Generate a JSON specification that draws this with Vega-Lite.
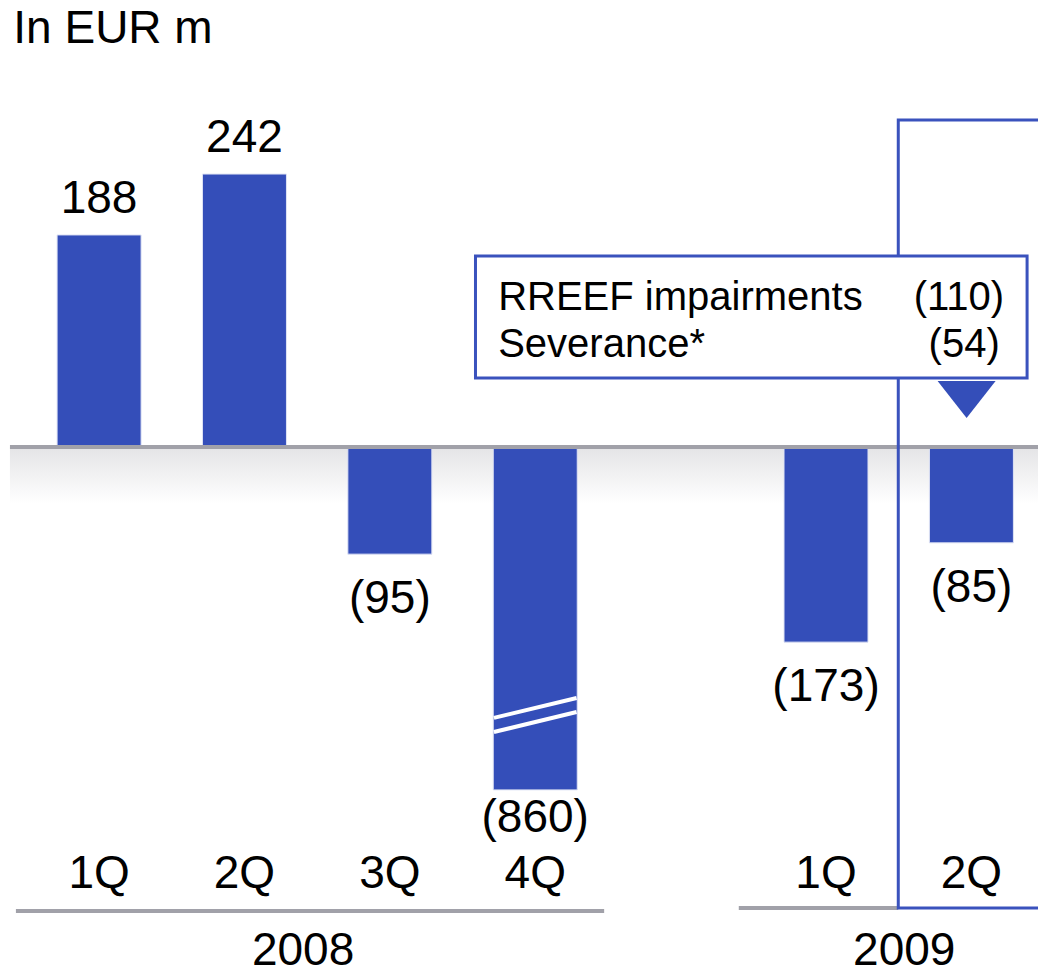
{
  "$schema": "https://vega.github.io/schema/vega-lite/v6.json",
  "width": 1038,
  "height": 976,
  "autosize": {"type": "none"},
  "padding": 0,
  "background": "#ffffff",
  "config": {"view": {"stroke": null}, "text": {"font": "Liberation Sans", "color": "#000000"}},
  "data": {
    "values": [
      {"year": "2008", "quarter": "1Q", "slot": 0, "value": 188, "drawn": 188, "label": "188"},
      {"year": "2008", "quarter": "2Q", "slot": 1, "value": 242, "drawn": 242, "label": "242"},
      {"year": "2008", "quarter": "3Q", "slot": 2, "value": -95, "drawn": -95, "label": "(95)"},
      {"year": "2008", "quarter": "4Q", "slot": 3, "value": -860, "drawn": -304, "label": "(860)"},
      {"year": "2009", "quarter": "1Q", "slot": 5, "value": -173, "drawn": -173, "label": "(173)"},
      {"year": "2009", "quarter": "2Q", "slot": 6, "value": -85, "drawn": -85, "label": "(85)"}
    ]
  },
  "layer": [
    {
      "data": {"values": [{}]},
      "mark": {"type": "rect", "fill": {"gradient": "linear", "x1": 0, "y1": 0, "x2": 0, "y2": 1, "stops": [{"offset": 0, "color": "#e4e4e6"}, {"offset": 1, "color": "#ffffff"}]}},
      "encoding": {
        "x": {"datum": -0.613, "type": "quantitative", "scale": {"domain": [-0.6471, 6.4237], "nice": false, "zero": false}, "axis": null},
        "x2": {"datum": 6.5},
        "y": {"datum": 0, "type": "quantitative", "scale": {"domain": [-469, 396.3], "nice": false, "zero": false}, "axis": null},
        "y2": {"datum": -50}
      }
    },
    {
      "mark": {"type": "bar", "width": 84, "color": "#344eb9", "stroke": "#dfe3f4", "strokeWidth": 1},
      "encoding": {
        "x": {"field": "slot", "type": "quantitative", "scale": {"domain": [-0.6471, 6.4237], "nice": false, "zero": false}, "axis": null},
        "y": {"field": "drawn", "type": "quantitative", "scale": {"domain": [-469, 396.3], "nice": false, "zero": false}, "axis": null},
        "y2": {"datum": 0}
      }
    },
    {
      "data": {"values": [{}]},
      "mark": {"type": "rule", "color": "#a1a1a9", "strokeWidth": 4},
      "encoding": {
        "x": {"datum": -0.613, "type": "quantitative", "scale": {"domain": [-0.6471, 6.4237], "nice": false, "zero": false}, "axis": null},
        "x2": {"datum": 6.5},
        "y": {"datum": 0, "type": "quantitative", "scale": {"domain": [-469, 396.3], "nice": false, "zero": false}, "axis": null}
      }
    },
    {
      "data": {"values": [{}]},
      "mark": {"type": "rule", "color": "#ffffff", "strokeWidth": 4},
      "encoding": {
        "x": {"datum": 2.7156, "type": "quantitative", "scale": {"domain": [-0.6471, 6.4237], "nice": false, "zero": false}, "axis": null},
        "x2": {"datum": 3.2844},
        "y": {"datum": -240.2, "type": "quantitative", "scale": {"domain": [-469, 396.3], "nice": false, "zero": false}, "axis": null},
        "y2": {"datum": -222.5}
      }
    },
    {
      "data": {"values": [{}]},
      "mark": {"type": "rule", "color": "#ffffff", "strokeWidth": 4},
      "encoding": {
        "x": {"datum": 2.7156, "type": "quantitative", "scale": {"domain": [-0.6471, 6.4237], "nice": false, "zero": false}, "axis": null},
        "x2": {"datum": 3.2844},
        "y": {"datum": -252.7, "type": "quantitative", "scale": {"domain": [-469, 396.3], "nice": false, "zero": false}, "axis": null},
        "y2": {"datum": -234.9}
      }
    },
    {
      "data": {"values": [{}]},
      "mark": {"type": "rule", "color": "#a1a1a9", "strokeWidth": 4},
      "encoding": {
        "x": {"datum": -0.572, "type": "quantitative", "scale": {"domain": [-0.6471, 6.4237], "nice": false, "zero": false}, "axis": null},
        "x2": {"datum": 3.474},
        "y": {"datum": -411.3, "type": "quantitative", "scale": {"domain": [-469, 396.3], "nice": false, "zero": false}, "axis": null}
      }
    },
    {
      "data": {"values": [{}]},
      "mark": {"type": "rule", "color": "#a1a1a9", "strokeWidth": 4},
      "encoding": {
        "x": {"datum": 4.4, "type": "quantitative", "scale": {"domain": [-0.6471, 6.4237], "nice": false, "zero": false}, "axis": null},
        "x2": {"datum": 5.497},
        "y": {"datum": -408.7, "type": "quantitative", "scale": {"domain": [-469, 396.3], "nice": false, "zero": false}, "axis": null}
      }
    },
    {
      "data": {"values": [{}]},
      "mark": {"type": "rect", "fill": null, "fillOpacity": 0, "stroke": "#3a52bd", "strokeWidth": 3},
      "encoding": {
        "x": {"datum": 5.497, "type": "quantitative", "scale": {"domain": [-0.6471, 6.4237], "nice": false, "zero": false}, "axis": null},
        "x2": {"datum": 6.6},
        "y": {"datum": 289.9, "type": "quantitative", "scale": {"domain": [-469, 396.3], "nice": false, "zero": false}, "axis": null},
        "y2": {"datum": -408.7}
      }
    },
    {
      "data": {"values": [{}]},
      "mark": {"type": "rect", "fill": "#ffffff", "stroke": "#3a52bd", "strokeWidth": 3},
      "encoding": {
        "x": {"datum": 2.589, "type": "quantitative", "scale": {"domain": [-0.6471, 6.4237], "nice": false, "zero": false}, "axis": null},
        "x2": {"datum": 6.383},
        "y": {"datum": 169.3, "type": "quantitative", "scale": {"domain": [-469, 396.3], "nice": false, "zero": false}, "axis": null},
        "y2": {"datum": 61.2}
      }
    },
    {
      "data": {"values": [{}]},
      "mark": {"type": "point", "shape": "M-1,-0.638L1,-0.638L0,0.638Z", "filled": true, "color": "#344eb9", "opacity": 1, "size": 3364},
      "encoding": {
        "x": {"datum": 5.967, "type": "quantitative", "scale": {"domain": [-0.6471, 6.4237], "nice": false, "zero": false}, "axis": null},
        "y": {"datum": 42.1, "type": "quantitative", "scale": {"domain": [-469, 396.3], "nice": false, "zero": false}, "axis": null}
      }
    },
    {
      "data": {"values": [{}]},
      "mark": {"type": "text", "text": "RREEF impairments", "align": "left", "baseline": "alphabetic", "fontSize": 40},
      "encoding": {
        "x": {"datum": 2.745, "type": "quantitative", "scale": {"domain": [-0.6471, 6.4237], "nice": false, "zero": false}, "axis": null},
        "y": {"datum": 121.5, "type": "quantitative", "scale": {"domain": [-469, 396.3], "nice": false, "zero": false}, "axis": null}
      }
    },
    {
      "data": {"values": [{}]},
      "mark": {"type": "text", "text": "Severance*", "align": "left", "baseline": "alphabetic", "fontSize": 40},
      "encoding": {
        "x": {"datum": 2.745, "type": "quantitative", "scale": {"domain": [-0.6471, 6.4237], "nice": false, "zero": false}, "axis": null},
        "y": {"datum": 79.8, "type": "quantitative", "scale": {"domain": [-469, 396.3], "nice": false, "zero": false}, "axis": null}
      }
    },
    {
      "data": {"values": [{}]},
      "mark": {"type": "text", "text": "(110)", "align": "right", "baseline": "alphabetic", "fontSize": 40},
      "encoding": {
        "x": {"datum": 6.225, "type": "quantitative", "scale": {"domain": [-0.6471, 6.4237], "nice": false, "zero": false}, "axis": null},
        "y": {"datum": 121.5, "type": "quantitative", "scale": {"domain": [-469, 396.3], "nice": false, "zero": false}, "axis": null}
      }
    },
    {
      "data": {"values": [{}]},
      "mark": {"type": "text", "text": "(54)", "align": "right", "baseline": "alphabetic", "fontSize": 40},
      "encoding": {
        "x": {"datum": 6.195, "type": "quantitative", "scale": {"domain": [-0.6471, 6.4237], "nice": false, "zero": false}, "axis": null},
        "y": {"datum": 79.8, "type": "quantitative", "scale": {"domain": [-469, 396.3], "nice": false, "zero": false}, "axis": null}
      }
    },
    {
      "data": {"values": [{}]},
      "mark": {"type": "text", "text": "In EUR m", "align": "left", "baseline": "alphabetic", "fontSize": 46},
      "encoding": {
        "x": {"datum": -0.59, "type": "quantitative", "scale": {"domain": [-0.6471, 6.4237], "nice": false, "zero": false}, "axis": null},
        "y": {"datum": 358.2, "type": "quantitative", "scale": {"domain": [-469, 396.3], "nice": false, "zero": false}, "axis": null}
      }
    },
    {
      "transform": [{"filter": "datum.value > 0"}],
      "mark": {"type": "text", "align": "center", "baseline": "alphabetic", "fontSize": 46, "dy": -22},
      "encoding": {
        "x": {"field": "slot", "type": "quantitative", "scale": {"domain": [-0.6471, 6.4237], "nice": false, "zero": false}, "axis": null},
        "y": {"field": "drawn", "type": "quantitative", "scale": {"domain": [-469, 396.3], "nice": false, "zero": false}, "axis": null},
        "text": {"field": "label"}
      }
    },
    {
      "transform": [{"filter": "datum.value < 0 && datum.value > -500"}],
      "mark": {"type": "text", "align": "center", "baseline": "alphabetic", "fontSize": 46, "dy": 59},
      "encoding": {
        "x": {"field": "slot", "type": "quantitative", "scale": {"domain": [-0.6471, 6.4237], "nice": false, "zero": false}, "axis": null},
        "y": {"field": "drawn", "type": "quantitative", "scale": {"domain": [-469, 396.3], "nice": false, "zero": false}, "axis": null},
        "text": {"field": "label"}
      }
    },
    {
      "transform": [{"filter": "datum.value <= -500"}],
      "mark": {"type": "text", "align": "center", "baseline": "alphabetic", "fontSize": 46, "dy": 42},
      "encoding": {
        "x": {"field": "slot", "type": "quantitative", "scale": {"domain": [-0.6471, 6.4237], "nice": false, "zero": false}, "axis": null},
        "y": {"field": "drawn", "type": "quantitative", "scale": {"domain": [-469, 396.3], "nice": false, "zero": false}, "axis": null},
        "text": {"field": "label"}
      }
    },
    {
      "mark": {"type": "text", "align": "center", "baseline": "alphabetic", "fontSize": 46},
      "encoding": {
        "x": {"field": "slot", "type": "quantitative", "scale": {"domain": [-0.6471, 6.4237], "nice": false, "zero": false}, "axis": null},
        "y": {"datum": -391.0, "type": "quantitative", "scale": {"domain": [-469, 396.3], "nice": false, "zero": false}, "axis": null},
        "text": {"field": "quarter"}
      }
    },
    {
      "data": {"values": [{}]},
      "mark": {"type": "text", "text": "2008", "align": "center", "baseline": "alphabetic", "fontSize": 46},
      "encoding": {
        "x": {"datum": 1.403, "type": "quantitative", "scale": {"domain": [-0.6471, 6.4237], "nice": false, "zero": false}, "axis": null},
        "y": {"datum": -459.2, "type": "quantitative", "scale": {"domain": [-469, 396.3], "nice": false, "zero": false}, "axis": null}
      }
    },
    {
      "data": {"values": [{}]},
      "mark": {"type": "text", "text": "2009", "align": "center", "baseline": "alphabetic", "fontSize": 46},
      "encoding": {
        "x": {"datum": 5.538, "type": "quantitative", "scale": {"domain": [-0.6471, 6.4237], "nice": false, "zero": false}, "axis": null},
        "y": {"datum": -459.2, "type": "quantitative", "scale": {"domain": [-469, 396.3], "nice": false, "zero": false}, "axis": null}
      }
    }
  ]
}
